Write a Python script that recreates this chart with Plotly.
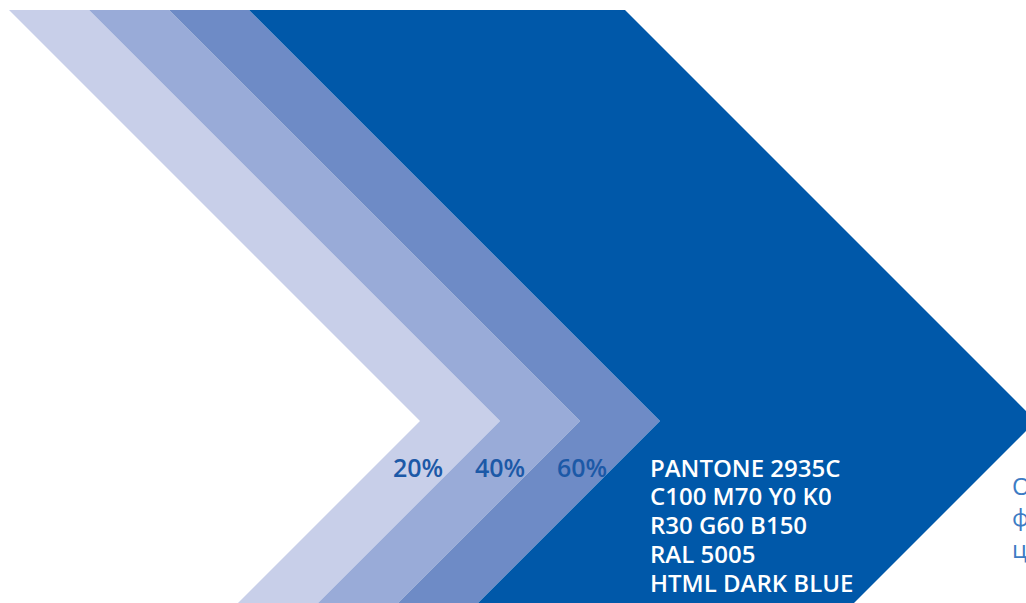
import plotly.graph_objects as go

W, H = 1026, 603
TOP_Y = 10
TIP_Y = 421

# chevron boundary tips (x of apex)
tips = [420, 500, 580, 660, 1036]
band_colors = ["#c8cfe9", "#99abd8", "#6e8bc6", "#0058a9"]
pct_labels = ["20%", "40%", "60%"]
pct_x = [418, 500, 582]
spec_lines = ["PANTONE 2935C", "C100 M70 Y0 K0", "R30 G60 B150", "RAL 5005", "HTML DARK BLUE"]
side_lines = ["Основной", "фирменный", "цвет"]


def chevron(t, ybot):
    top = (t - (TIP_Y - TOP_Y), TOP_Y)
    tip = (t, TIP_Y)
    bot = (t - (ybot - TIP_Y), ybot)
    return [top, tip, bot]


fig = go.Figure()
YB = 640
for i, col in enumerate(band_colors):
    a = chevron(tips[i], YB)
    b = chevron(tips[i + 1], YB)
    pts = a + b[::-1] + [a[0]]
    fig.add_trace(go.Scatter(
        x=[p[0] for p in pts], y=[p[1] for p in pts],
        mode="lines", fill="toself", fillcolor=col,
        line=dict(width=0, color=col), hoverinfo="skip", showlegend=False))

for lab, x in zip(pct_labels, pct_x):
    fig.add_annotation(x=x, y=467, xref="x", yref="y", text=lab, showarrow=False,
                       xanchor="center", yanchor="middle", height=28,
                       font=dict(family="Open Sans", size=25, color="#1c59a7", weight=600))

for i, s in enumerate(spec_lines):
    fig.add_annotation(x=648, y=467 + i * 28.8, xref="x", yref="y", text=s, showarrow=False,
                       xanchor="left", yanchor="middle", height=27,
                       font=dict(family="Open Sans", size=24, color="white", weight=600))

for i, s in enumerate(side_lines):
    fig.add_annotation(x=1010, y=485 + i * 31.5, xref="x", yref="y", text=s, showarrow=False,
                       xanchor="left", yanchor="middle", height=29,
                       font=dict(family="Open Sans", size=24, color="#3d7cc4"))

fig.update_xaxes(range=[0, W], visible=False, fixedrange=True)
fig.update_yaxes(range=[H, 0], visible=False, fixedrange=True)
fig.update_layout(width=W, height=H, margin=dict(l=0, r=0, t=0, b=0),
                  paper_bgcolor="white", plot_bgcolor="white")
fig.write_html("out.html", config={"displayModeBar": False},
               post_script="document.body.style.margin='0';document.body.style.overflow='hidden';")
